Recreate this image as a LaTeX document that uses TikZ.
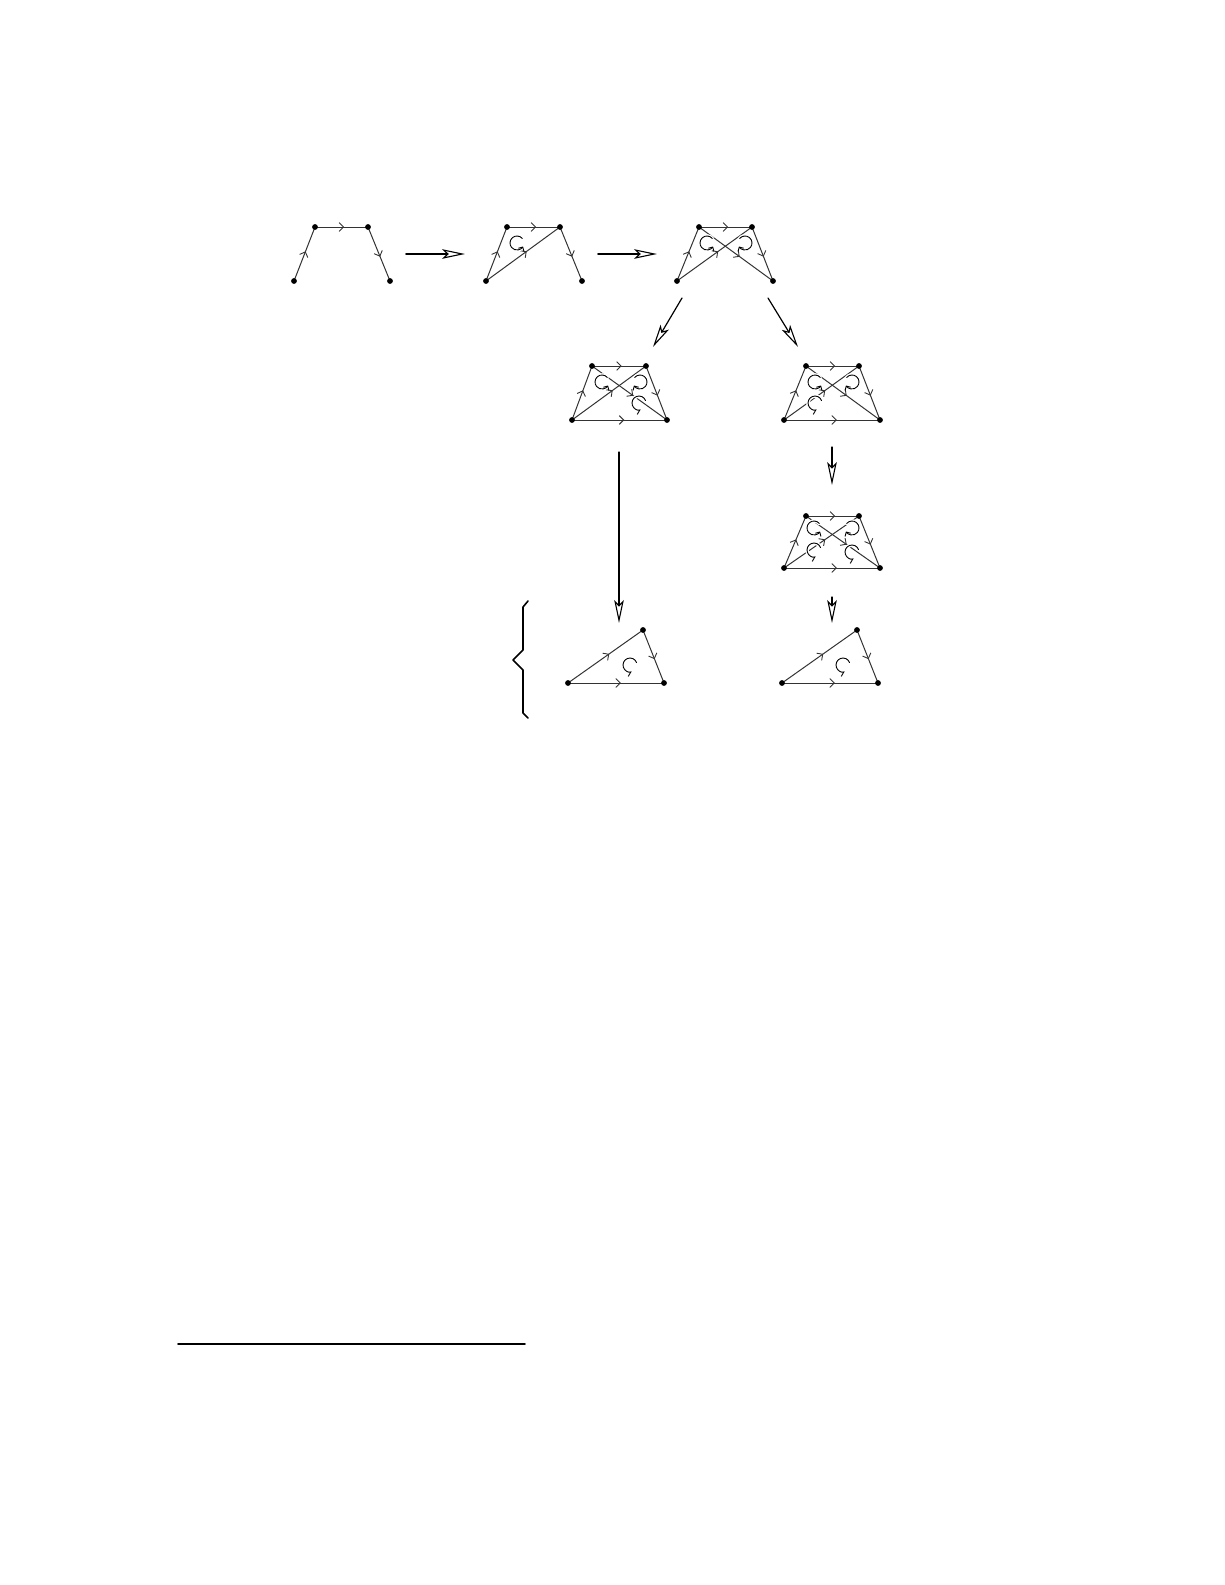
\documentclass[tikz,border=0pt]{standalone}
\usetikzlibrary{arrows.meta,decorations.markings}
\tikzset{
  edge/.style={draw=black!80, line width=.5pt, postaction={decorate},
    decoration={markings, mark=at position .55 with {\arrow{Straight Barb[length=2.2pt,width=4.4pt,line width=.45pt]}}}},
  move/.style={line width=.6pt, -{Stealth[open, length=11.5pt, width=4.8pt, inset=2.5pt, line width=.55pt]}},
  turn/.style={line width=.45pt, preaction={draw=white, line width=1.8pt, arrows=-}},
  leftturn/.style={turn, -{Straight Barb[length=1.6pt,width=3.2pt]}},
  rightturn/.style={turn, -{Straight Barb[length=1.6pt,width=3.2pt]}},
  hookturn/.style={turn, -{Straight Barb[right, length=1.8pt,width=3.6pt]}},
}
\begin{document}
\begin{tikzpicture}[x=0.5pt, y=-0.5pt, line join=round, line cap=round]
\useasboundingbox (0,0) rectangle (1225,1585);

% stage 1: three edges
\begin{scope}[shift={(294,281)}]
  \path (0,0) coordinate (A) (21,-54) coordinate (B) (74,-54) coordinate (C) (96,0) coordinate (D);
  \draw[edge] (A)--(B); \draw[edge] (B)--(C); \draw[edge] (C)--(D);
  \foreach \v in {A,B,C,D} \fill (\v) circle (1.45pt);
\end{scope}

% stage 2
\begin{scope}[shift={(486,281)}]
  \path (0,0) coordinate (A) (21,-54) coordinate (B) (74,-54) coordinate (C) (96,0) coordinate (D);
  \draw[edge] (A)--(B); \draw[edge] (B)--(C); \draw[edge] (C)--(D); \draw[edge] (A)--(C);
  \draw[leftturn] (31,-38) ++(40:3.5pt) arc[start angle=40, end angle=330, radius=3.5pt];
  \foreach \v in {A,B,C,D} \fill (\v) circle (1.45pt);
\end{scope}

% stage 3
\begin{scope}[shift={(677,281)}]
  \path (0,0) coordinate (A) (22,-54) coordinate (B) (75,-54) coordinate (C) (96,0) coordinate (D);
  \draw[edge] (A)--(B); \draw[edge] (B)--(C); \draw[edge] (C)--(D); \draw[edge] (A)--(C); \draw[edge] (B)--(D);
  \draw[leftturn] (30,-38) ++(40:3.5pt) arc[start angle=40, end angle=330, radius=3.5pt];
  \draw[rightturn] (68,-38) ++(140:3.5pt) arc[start angle=140, end angle=-150, radius=3.5pt];
  \foreach \v in {A,B,C,D} \fill (\v) circle (1.45pt);
\end{scope}

% stage 4 (left branch)
\begin{scope}[shift={(572,420)}]
  \path (0,0) coordinate (A) (20,-54) coordinate (B) (74,-54) coordinate (C) (95,0) coordinate (D);
  \draw[edge] (A)--(B); \draw[edge] (B)--(C); \draw[edge] (C)--(D); \draw[edge] (A)--(D);
  \draw[edge] (A)--(C); \draw[edge] (B)--(D);
  \draw[leftturn] (30,-38) ++(40:3.5pt) arc[start angle=40, end angle=330, radius=3.5pt];
  \draw[rightturn] (68,-38) ++(140:3.5pt) arc[start angle=140, end angle=-150, radius=3.5pt];
  \draw[hookturn] (67,-17) ++(20:3.5pt) arc[start angle=20, end angle=285, radius=3.5pt];
  \foreach \v in {A,B,C,D} \fill (\v) circle (1.45pt);
\end{scope}

% stage 5 (right branch)
\begin{scope}[shift={(784,420)}]
  \path (0,0) coordinate (A) (22,-54) coordinate (B) (75,-54) coordinate (C) (96,0) coordinate (D);
  \draw[edge] (A)--(B); \draw[edge] (B)--(C); \draw[edge] (C)--(D); \draw[edge] (A)--(D);
  \draw[edge] (A)--(C); \draw[edge] (B)--(D);
  \draw[leftturn] (31,-38) ++(40:3.5pt) arc[start angle=40, end angle=330, radius=3.5pt];
  \draw[rightturn] (68,-38) ++(140:3.5pt) arc[start angle=140, end angle=-150, radius=3.5pt];
  \draw[hookturn] (31,-17) ++(20:3.5pt) arc[start angle=20, end angle=285, radius=3.5pt];
  \foreach \v in {A,B,C,D} \fill (\v) circle (1.45pt);
\end{scope}

% stage 6
\begin{scope}[shift={(784,568)}]
  \path (0,0) coordinate (A) (22,-52) coordinate (B) (75,-52) coordinate (C) (96,0) coordinate (D);
  \draw[edge] (A)--(B); \draw[edge] (B)--(C); \draw[edge] (C)--(D); \draw[edge] (A)--(D);
  \draw[edge] (A)--(C); \draw[edge] (B)--(D);
  \draw[leftturn] (30,-40) ++(40:3.5pt) arc[start angle=40, end angle=330, radius=3.5pt];
  \draw[rightturn] (68,-40) ++(140:3.5pt) arc[start angle=140, end angle=-150, radius=3.5pt];
  \foreach \cx/\cy in {30/-18, 68/-16}
    \draw[hookturn] (\cx,\cy) ++(20:3.5pt) arc[start angle=20, end angle=285, radius=3.5pt];
  \foreach \v in {A,B,C,D} \fill (\v) circle (1.45pt);
\end{scope}

% final triangles
\foreach \ox/\oy/\cx in {568/683/62, 782/683/61}{
  \begin{scope}[shift={(\ox,\oy)}]
    \path (0,0) coordinate (A) (75,-53) coordinate (C) (96,0) coordinate (D);
    \draw[edge] (A)--(C); \draw[edge] (C)--(D); \draw[edge] (A)--(D);
    \draw[hookturn] (\cx,-18) ++(20:3.5pt) arc[start angle=20, end angle=285, radius=3.5pt];
    \foreach \v in {A,C,D} \fill (\v) circle (1.45pt);
  \end{scope}
}

% moves between stages
\path
  (406,254) coordinate (m1s) (465,254) coordinate (m1e)
  (598,254) coordinate (m2s) (657,254) coordinate (m2e)
  (682,298) coordinate (m3s) (653,347) coordinate (m3e)
  (768,298) coordinate (m4s) (798,347) coordinate (m4e)
  (619,452) coordinate (m5s) (619,623) coordinate (m5e)
  (832,447) coordinate (m6s) (832,485) coordinate (m6e)
  (832,597) coordinate (m7s) (832,623) coordinate (m7e)
  ;
\draw[move, line width=1pt] (m1s)--(m1e);
\draw[move, line width=1pt] (m2s)--(m2e);
\foreach \m in {3,...,7} \draw[move] (m\m s)--(m\m e);

% brace
\draw[line width=.8pt] (528,601)--(523,607)--(523,650)--(513,660)--(523,670)--(523,713)--(528,718);

% footnote rule
\draw[line width=.8pt] (178,1344)--(525,1344);
\end{tikzpicture}
\end{document}
